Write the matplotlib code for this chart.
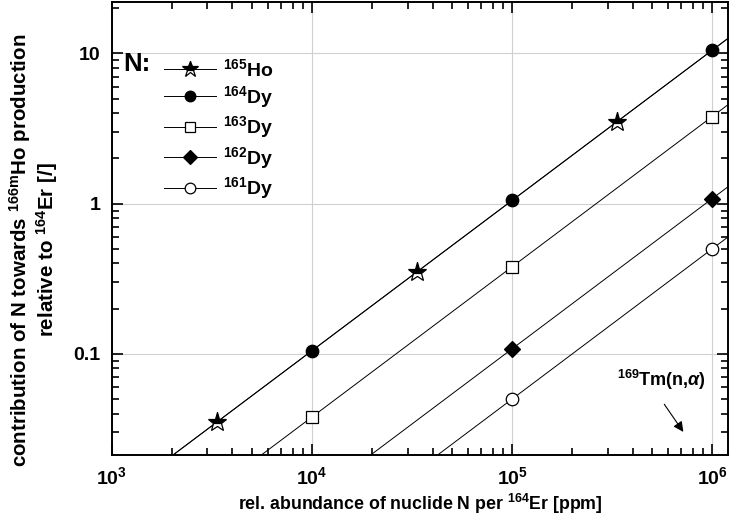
import numpy as np
import matplotlib.pyplot as plt
from matplotlib.ticker import LogLocator, FixedLocator, NullFormatter

plt.rcParams['font.family'] = ['Liberation Sans', 'DejaVu Sans']
plt.rcParams['font.weight'] = 'bold'
plt.rcParams['mathtext.fontset'] = 'custom'
plt.rcParams['mathtext.rm'] = 'Liberation Sans:bold'
plt.rcParams['mathtext.it'] = 'Liberation Sans:italic:bold'
plt.rcParams['mathtext.bf'] = 'Liberation Sans:bold'

# data
ho165_x = [3.33e3, 3.33e4, 3.33e5]
ho165_y = [0.035, 0.35, 3.5]
dy164_x = [1e4, 1e5, 1e6]
dy164_y = [0.105, 1.05, 10.5]
dy163_x = [1e4, 1e5, 1e6]
dy163_y = [0.038, 0.38, 3.8]
dy162_x = [1e5, 1e6]
dy162_y = [0.108, 1.08]
dy161_x = [1e5, 1e6]
dy161_y = [0.05, 0.5]

labels = ['$^{\\mathrm{165}}$Ho', '$^{\\mathrm{164}}$Dy', '$^{\\mathrm{163}}$Dy',
          '$^{\\mathrm{162}}$Dy', '$^{\\mathrm{161}}$Dy']

XMIN, XMAX = 1e3, 1.2e6
YMIN, YMAX = 0.0212, 22


def fit_line(xs, ys):
    # slope-1 line in log-log through the points, spanning full x range
    k = np.exp(np.mean(np.log(np.array(ys) / np.array(xs))))
    xl = np.array([XMIN, XMAX])
    return xl, k * xl


fig = plt.figure(figsize=(7.3, 5.32), dpi=100)
ax = fig.add_axes([0.1534, 0.1447, 0.8439, 0.8515])
ax.set_xscale('log')
ax.set_yscale('log')

series = [
    (ho165_x, ho165_y, dict(marker='*', markersize=14, fillstyle='top',
                            markerfacecolor='black', markerfacecoloralt='white')),
    (dy164_x, dy164_y, dict(marker='o', markersize=9, markerfacecolor='black')),
    (dy163_x, dy163_y, dict(marker='s', markersize=8, markerfacecolor='white')),
    (dy162_x, dy162_y, dict(marker='D', markersize=8, markerfacecolor='black')),
    (dy161_x, dy161_y, dict(marker='o', markersize=9, markerfacecolor='white')),
]

for (xs, ys, style), lab in zip(series, labels):
    xl, yl = fit_line(xs, ys)
    ax.plot(xl, yl, color='black', lw=0.7, zorder=2)
    ax.plot(xs, ys, linestyle='none', color='black', markeredgecolor='black',
            markeredgewidth=0.9, zorder=3, **style)
    # legend proxy
    ax.plot([], [], color='black', lw=0.7, markeredgecolor='black',
            markeredgewidth=0.9, label=lab, **style)

ax.set_xlim(XMIN, XMAX)
ax.set_ylim(YMIN, YMAX)

ax.grid(True, which='major', color='#d0d0d0', lw=0.8, zorder=0)
ax.xaxis.set_minor_locator(LogLocator(base=10, subs=np.arange(2, 10)))
ax.yaxis.set_minor_locator(LogLocator(base=10, subs=np.arange(2, 10)))
ax.xaxis.set_minor_formatter(NullFormatter())
ax.yaxis.set_minor_formatter(NullFormatter())
ax.yaxis.set_major_locator(FixedLocator([0.1, 1, 10]))
ax.set_yticklabels(['0.1', '1', '10'])

ax.tick_params(which='both', direction='in', top=True, right=True, width=1.2)
ax.tick_params(which='major', length=8, labelsize=14, pad=8)
ax.tick_params(which='minor', length=5)
for sp in ax.spines.values():
    sp.set_linewidth(1.4)
for t in ax.get_xticklabels() + ax.get_yticklabels():
    t.set_fontweight('bold')

ax.set_xlabel('rel. abundance of nuclide N per $^{\\mathrm{164}}$Er [ppm]', fontsize=12.8,
              fontweight='bold', labelpad=3)
ax.set_ylabel('contribution of N towards $^{\\mathrm{166m}}$Ho production\n'
              'relative to $^{\\mathrm{164}}$Er [/]',
              fontsize=14.8, fontweight='bold', linespacing=1.05)
ax.yaxis.set_label_coords(-0.0844, 0.4525)

leg = ax.legend(loc='upper left', bbox_to_anchor=(0.072, 0.894), frameon=False,
                fontsize=14, handlelength=2.65, labelspacing=0.23, handletextpad=0.4,
                borderaxespad=0, markerscale=0.85)
for t in leg.get_texts():
    t.set_fontweight('bold')
ax.text(0.018, 0.863, 'N:', transform=ax.transAxes, fontsize=18.5, fontweight='bold',
        va='center', ha='left')

ax.text(0.82, 0.165, '$^{\\mathrm{169}}$Tm(n,$\\alpha$)', transform=ax.transAxes,
        fontsize=13, fontweight='bold', ha='left', va='center')
ax.annotate('', xy=(0.930, 0.046), xytext=(0.894, 0.117), xycoords='axes fraction',
            arrowprops=dict(arrowstyle='-|>', color='black', lw=0.8,
                            mutation_scale=15))

fig.savefig('out.png', dpi=100)
